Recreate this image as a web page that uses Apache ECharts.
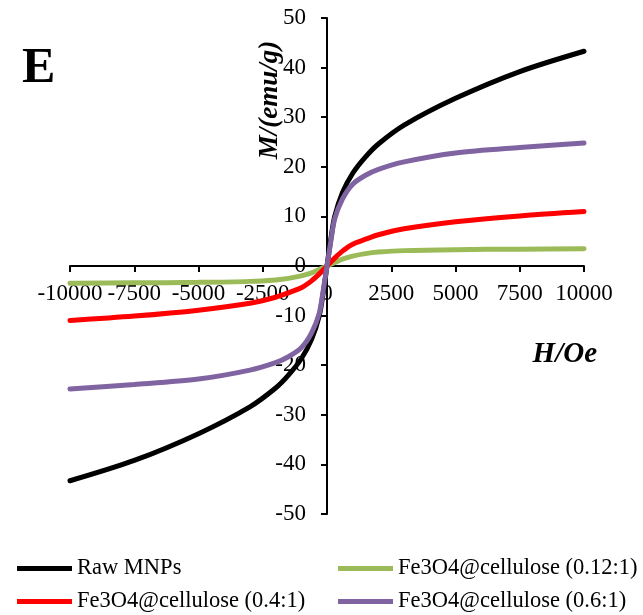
<!DOCTYPE html>
<html>
<head>
<meta charset="utf-8">
<script src="https://cdn.jsdelivr.net/npm/echarts@6/dist/echarts.min.js"></script>
<style>
  html, body { margin: 0; padding: 0; background: #fff; }
  #main { width: 643px; height: 615px; }
</style>
</head>
<body>
<div id="main"></div>
<script>
var field = [-10000, -7500, -5000, -3000, -2000, -1500, -1000, -600, -300, -150, 0,
  150, 300, 600, 1000, 1500, 2000, 3000, 5000, 7500, 10000];
var rawMNPs = [-43.3, -39.2, -33.8, -28.4, -24.6, -22, -18.7, -14.8, -10, -5.5, 0,
  5.5, 10, 14.8, 18.7, 22, 24.6, 28.4, 33.8, 39.2, 43.3];
var cell012 = [-3.5, -3.4, -3.3, -3.1, -2.8, -2.5, -2.0, -1.4, -0.7, -0.35, 0,
  0.35, 0.7, 1.4, 2.0, 2.5, 2.8, 3.1, 3.3, 3.4, 3.5];
var cell04 = [-11, -10.1, -8.9, -7.5, -6.3, -5.4, -4.4, -3.0, -1.6, -0.8, 0,
  0.8, 1.6, 3.0, 4.4, 5.4, 6.3, 7.5, 8.9, 10.1, 11];
var cell06 = [-24.8, -23.9, -22.8, -21, -19.5, -18.3, -16.5, -13.5, -9.5, -5, 0,
  5, 9.5, 13.5, 16.5, 18.3, 19.5, 21, 22.8, 23.9, 24.8];

var names = ['Raw MNPs', 'Fe3O4@cellulose (0.12:1)', 'Fe3O4@cellulose (0.4:1)', 'Fe3O4@cellulose (0.6:1)'];
var colors = ['#000000', '#9BBB59', '#FF0000', '#8064A2'];
var values = [rawMNPs, cell012, cell04, cell06];

function pairs(ys) {
  return field.map(function (h, i) { return [h, ys[i]]; });
}

var font = 'Liberation Serif';
var chart = echarts.init(document.getElementById('main'));

// grid: x from 70 to 584, y from 18 to 514; zero lines cross at (327, 266)
var gridLeft = 70, gridRight = 59, gridTop = 18, gridBottom = 101;

var series = values.map(function (ys, i) {
  return {
    name: names[i],
    type: 'line',
    data: pairs(ys),
    smooth: 0.3,
    showSymbol: false,
    z: i === 3 ? 5 : 3,
    lineStyle: { color: colors[i], width: 5, cap: 'round' },
    itemStyle: { color: colors[i] }
  };
});

var legendBase = {
  orient: 'vertical',
  icon: 'rect',
  itemWidth: 55,
  itemHeight: 5,
  itemGap: 10,
  padding: 0,
  bottom: 2,
  textStyle: { fontFamily: font, fontSize: 22.5, color: '#000' }
};

var option = {
  animation: false,
  grid: { left: gridLeft, right: gridRight, top: gridTop, bottom: gridBottom },
  xAxis: {
    type: 'value',
    min: -10000,
    max: 10000,
    interval: 2500,
    position: 'bottom',
    offset: -248,
    axisLine: { onZero: false, lineStyle: { color: '#000', width: 2 } },
    axisTick: { length: 6, lineStyle: { color: '#000', width: 2 } },
    axisLabel: {
      fontFamily: font, fontSize: 23, color: '#000', margin: 16,
      formatter: function (v) { return String(v); }
    },
    splitLine: { show: false }
  },
  yAxis: {
    type: 'value',
    min: -50,
    max: 50,
    interval: 10,
    position: 'left',
    offset: -257,
    axisLine: { onZero: false, lineStyle: { color: '#000', width: 2 } },
    axisTick: { length: 6, lineStyle: { color: '#000', width: 2 } },
    axisLabel: { fontFamily: font, fontSize: 23, color: '#000', margin: 21 },
    splitLine: { show: false }
  },
  legend: [
    Object.assign({ left: 17, data: [names[0], names[2]] }, legendBase),
    Object.assign({ left: 338, data: [names[1], names[3]] }, legendBase)
  ],
  graphic: [
    {
      type: 'text', left: 22, top: 44,
      style: { text: 'E', font: 'bold 50px "Liberation Serif"', fill: '#000' }
    },
    {
      type: 'text', x: 270, y: 100, rotation: Math.PI / 2,
      style: {
        text: 'M/(emu/g)', font: 'italic bold 27px "Liberation Serif"',
        fill: '#000', align: 'center', verticalAlign: 'middle'
      }
    },
    {
      type: 'text', x: 597, y: 355,
      style: {
        text: 'H/Oe', font: 'italic bold 29px "Liberation Serif"',
        fill: '#000', align: 'right', verticalAlign: 'middle'
      }
    }
  ],
  series: series
};

chart.setOption(option);
</script>
</body>
</html>
